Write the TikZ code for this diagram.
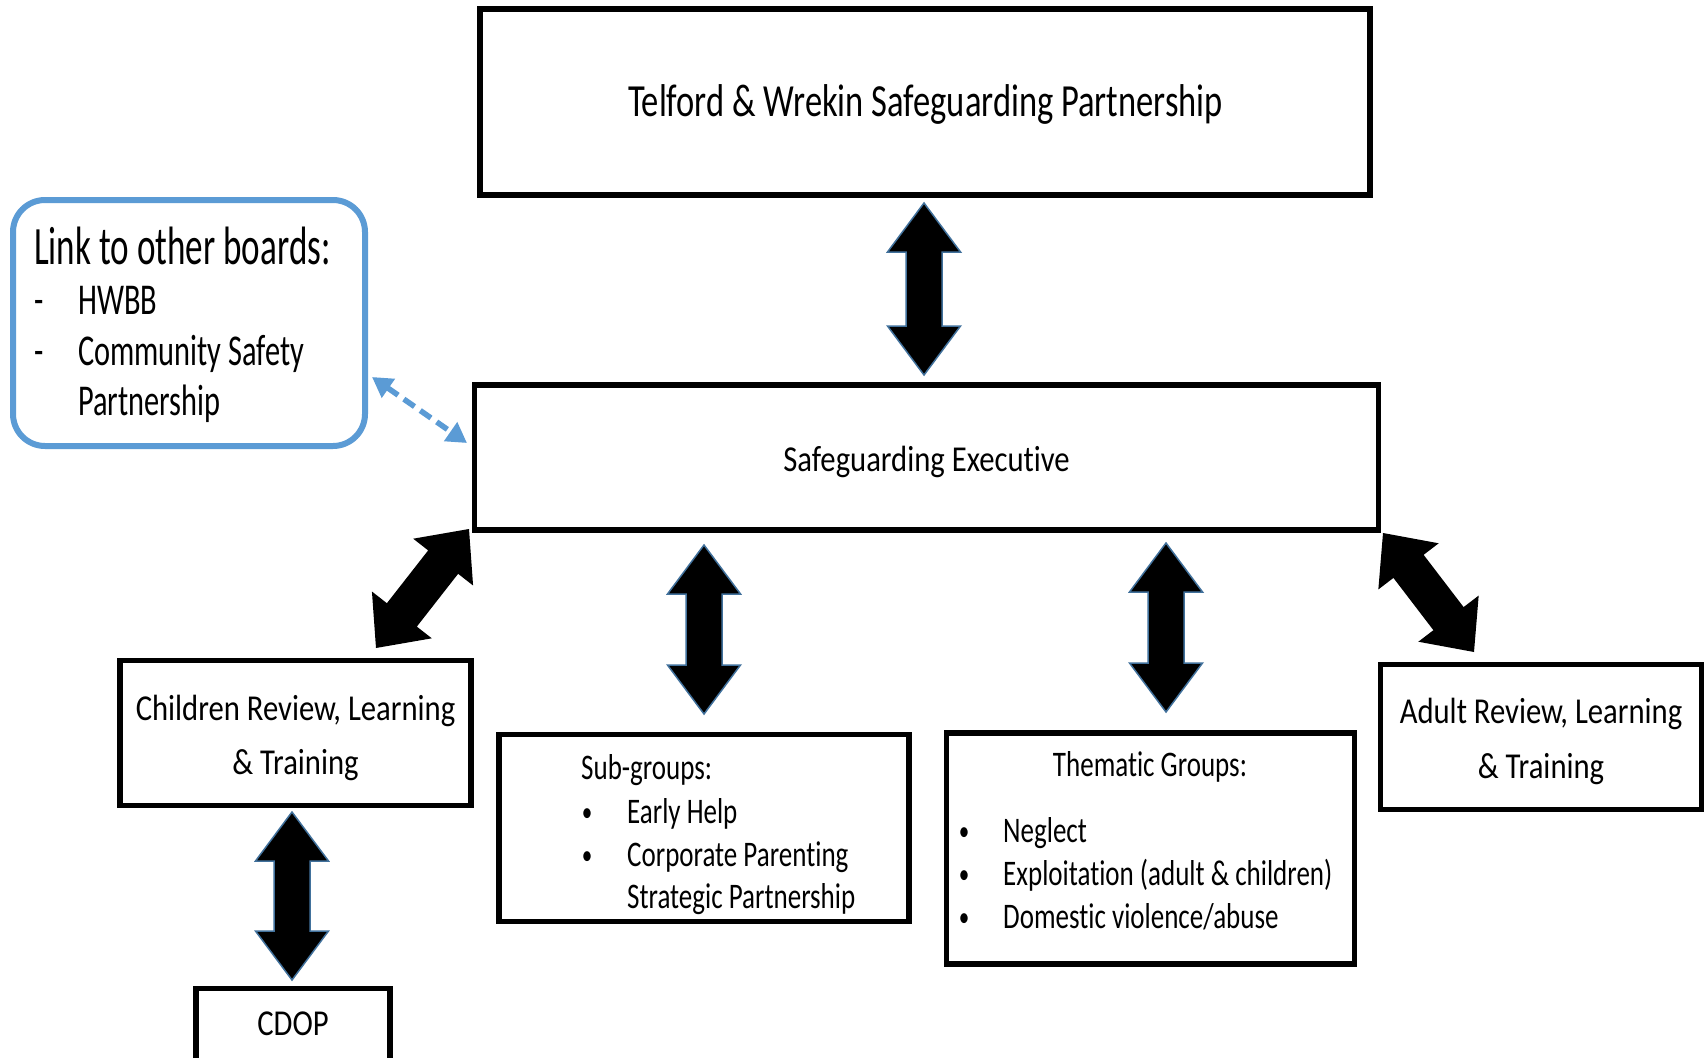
\documentclass[tikz,border=0pt]{standalone}
\usepackage{fontspec}
\setmainfont{Carlito}[Ligatures=NoCommon]
\newfontfamily\fTop[FakeStretch=0.75,Ligatures=NoCommon]{Carlito}
\newfontfamily\fMid[FakeStretch=0.84,Ligatures=NoCommon]{Carlito}
\newfontfamily\fList[FakeStretch=0.75,Ligatures=NoCommon]{Carlito}
\newfontfamily\fLinkT[FakeStretch=0.65,Ligatures=NoCommon]{Carlito}
\newfontfamily\fLinkI[FakeStretch=0.69,Ligatures=NoCommon]{Carlito}
\usetikzlibrary{calc,arrows.meta}
\definecolor{linkblue}{HTML}{5B9BD5}
\definecolor{arrowedge}{HTML}{41719C}
\newcommand\dblarrow[6]{%
  \coordinate (da1) at ($(#1)!#3!(#2)$);
  \coordinate (da2) at ($(#2)!#3!(#1)$);
  \path[#6] (#1) -- ($(da1)!#4!90:(#2)$) -- ($(da1)!#5!90:(#2)$) -- ($(da2)!#5!-90:(#1)$) -- ($(da2)!#4!-90:(#1)$) -- (#2) -- ($(da2)!#4!90:(#1)$) -- ($(da2)!#5!90:(#1)$) -- ($(da1)!#5!-90:(#2)$) -- ($(da1)!#4!-90:(#2)$) -- cycle;
}
\tikzset{
  box/.style={draw=black, line width=5.5pt, fill=white, inner sep=0pt, rectangle},
  linkbox/.style={draw=linkblue, line width=6pt, rounded corners=32pt, fill=white, inner sep=0pt, rectangle},
  txtTop/.style={inner sep=0pt, font=\fTop\fontsize{46pt}{50pt}\selectfont},
  txtMid/.style={inner sep=0pt, font=\fMid\fontsize{36.5pt}{40pt}\selectfont},
  txtList/.style={inner sep=0pt, font=\fList\fontsize{36pt}{40pt}\selectfont},
  bullet/.style={inner sep=0pt, font=\fList\fontsize{28pt}{30pt}\selectfont},
  txtLinkT/.style={inner sep=0pt, font=\fLinkT\fontsize{54pt}{58pt}\selectfont},
  txtLinkI/.style={inner sep=0pt, font=\fLinkI\fontsize{44pt}{48pt}\selectfont},
  vblock/.style={fill=black, draw=arrowedge, line width=1.5pt, line join=miter},
  dblock/.style={fill=black},
  dashlink/.style={draw=linkblue, line width=5.5pt, dash pattern=on 13pt off 7pt,
    {Triangle[length=20pt,width=22pt]}-{Triangle[length=20pt,width=22pt]}}
}
\begin{document}
\begin{tikzpicture}[x=1pt,y=-1pt]
\useasboundingbox (0,0) rectangle (1707,1057);
\clip (0,0) rectangle (1707,1057);
\fill[white] (0,0) rectangle (1707,1057);

% boxes
\node[box, minimum width=890pt, minimum height=186pt] (top) at (925,102) {};
\node[box, minimum width=904pt, minimum height=145pt] (exec) at (926.5,457.5) {};
\node[box, minimum width=351pt, minimum height=145pt] (child) at (295.5,733) {};
\node[box, minimum width=410pt, minimum height=187pt] (sub) at (704,828) {};
\node[box, minimum width=408pt, minimum height=231pt] (them) at (1150.7,848.5) {};
\node[box, minimum width=321pt, minimum height=145pt] (adult) at (1541,737) {};
\node[box, minimum width=194pt, minimum height=103pt] (cdop) at (293,1040) {};
\node[linkbox, minimum width=352pt, minimum height=246pt] (link) at (189,323) {};

% texts
\node[txtTop, anchor=base] (ttop) at (925.5,116) {Telford \& Wrekin Safeguarding Partnership};
\node[txtMid, anchor=base] (texec) at (926.5,471) {Safeguarding Executive};
\node[txtMid, anchor=base] (tchild1) at (295.5,720) {Children Review, Learning};
\node[txtMid, anchor=base] (tchild2) at (295.5,774) {\& Training};
\node[txtMid, anchor=base] (tadult1) at (1541,723) {Adult Review, Learning};
\node[txtMid, anchor=base] (tadult2) at (1541,778) {\& Training};
\node[txtMid, anchor=base] (tcdop) at (293,1035) {CDOP};

\node[txtList, anchor=base west] (tsub0) at (581,779) {Sub-groups:};
\node[bullet, anchor=base] (bsub1) at (587,821) {•};
\node[bullet, anchor=base] (bsub2) at (587,864) {•};
\node[txtList, anchor=base west] (tsub1) at (627,823) {Early Help};
\node[txtList, anchor=base west] (tsub2) at (627,866) {Corporate Parenting};
\node[txtList, anchor=base west] (tsub3) at (627,908) {Strategic Partnership};

\node[txtList, anchor=base] (tthem0) at (1150,776) {Thematic Groups:};
\node[bullet, anchor=base] (bthem1) at (964,840) {•};
\node[bullet, anchor=base] (bthem2) at (964,883) {•};
\node[bullet, anchor=base] (bthem3) at (964,926) {•};
\node[txtList, anchor=base west] (tthem1) at (1003,842) {Neglect};
\node[txtList, anchor=base west] (tthem2) at (1003,885) {Exploitation (adult \& children)};
\node[txtList, anchor=base west] (tthem3) at (1003,928) {Domestic violence/abuse};

\node[txtLinkT, anchor=base west] (tlink0) at (34,264) {Link to other boards:};
\node[txtLinkI, anchor=base west] (dlink1) at (34,314) {-};
\node[txtLinkI, anchor=base west] (dlink2) at (34,365) {-};
\node[txtLinkI, anchor=base west] (tlink1) at (78,314) {HWBB};
\node[txtLinkI, anchor=base west] (tlink2) at (78,365) {Community Safety};
\node[txtLinkI, anchor=base west] (tlink3) at (78,415) {Partnership};

% arrow end points
\coordinate (a1) at (924,203);  \coordinate (a2) at (924,375);
\coordinate (b1) at (704,545);  \coordinate (b2) at (704,714);
\coordinate (c1) at (1166,543); \coordinate (c2) at (1166,712);
\coordinate (d1) at (292,812);  \coordinate (d2) at (292,980);
\coordinate (e1) at (469,529);  \coordinate (e2) at (376,648);
\coordinate (f1) at (1383,533); \coordinate (f2) at (1474,652);
\coordinate (g1) at (372,377);  \coordinate (g2) at (467,443);

\dblarrow{a1}{a2}{49pt}{36.5pt}{18pt}{vblock}
\dblarrow{b1}{b2}{49pt}{36.5pt}{18pt}{vblock}
\dblarrow{c1}{c2}{49pt}{36.5pt}{18pt}{vblock}
\dblarrow{d1}{d2}{49pt}{36.5pt}{18pt}{vblock}
\dblarrow{e1}{e2}{42pt}{38pt}{19pt}{dblock}
\dblarrow{f1}{f2}{42pt}{38pt}{19pt}{dblock}

\draw[dashlink] (g1) -- (g2);
\end{tikzpicture}
\end{document}
